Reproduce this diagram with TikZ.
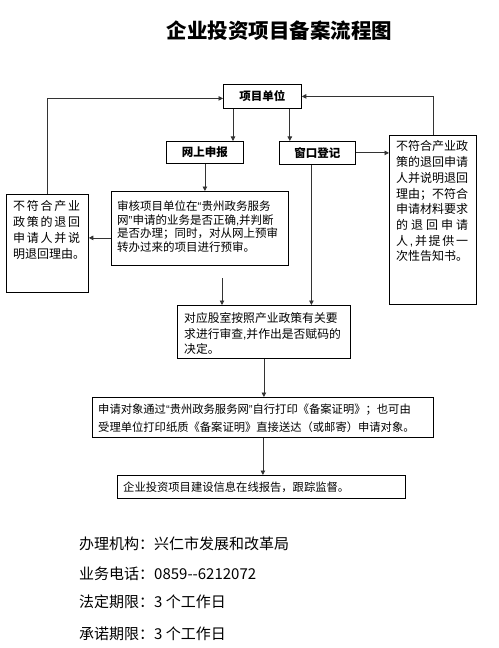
\documentclass[tikz,border=0pt]{standalone}
\usepackage{fontspec}
\setmainfont{Noto Sans CJK SC}
\newfontfamily\latinf{Liberation Sans}
\usetikzlibrary{arrows.meta}
\newcommand{\latq}[1]{{\latinf #1}}
\begin{document}
\begin{tikzpicture}[x=1bp,y=-1bp,
  box/.style={draw=black, line width=0.8bp, inner sep=0pt, anchor=north west},
  conn/.style={draw=black!80, line width=0.8bp, -{Triangle[length=4.5bp,width=4.5bp]}},
  txt/.style={inner sep=0pt, anchor=north west, align=left},
  bold/.style={font=\fontsize{11.5bp}{13bp}\selectfont\bfseries}]
\useasboundingbox (0,0) rectangle (499,648);

% title
\node[inner sep=0pt, font=\fontsize{20.5bp}{24bp}\selectfont\bfseries] (title) at (279.5,31) {企业投资项目备案流程图};

% boxes
\node[box, minimum width=78bp, minimum height=24bp] (unit) at (223,84) {};
\node[bold] (unittxt) at (unit.center) {项目单位};
\node[box, minimum width=77bp, minimum height=22bp] (online) at (166,141) {};
\node[bold] (onlinetxt) at (online.center) {网上申报};
\node[box, minimum width=76bp, minimum height=23bp] (window) at (279,141) {};
\node[bold] (windowtxt) at (window.center) {窗口登记};
\node[box, minimum width=87bp, minimum height=169bp] (rightbox) at (389,135) {};
\node[box, minimum width=82bp, minimum height=98bp] (leftbox) at (6,194) {};
\node[box, minimum width=177bp, minimum height=74bp] (review) at (111,191) {};
\node[box, minimum width=173bp, minimum height=53bp] (check) at (177,305) {};
\node[box, minimum width=341bp, minimum height=40bp] (notify) at (92,397) {};
\node[box, minimum width=288bp, minimum height=23bp] (final) at (117,475) {};

% texts
\node[txt, font=\fontsize{12bp}{15.7bp}\selectfont] (righttxt) at (396,140.6) {不符合产业政\\策的退回申请\\人并说明退回\\理由；不符合\\申请材料要求\\\makebox[72bp][s]{的\hfill 退\hfill 回\hfill 申\hfill 请}\\\makebox[72bp][s]{人\hfill\latq{,}\hfill 并\hfill 提\hfill 供\hfill 一}\\次性告知书。};
\node[txt, font=\fontsize{12bp}{16bp}\selectfont] (lefttxt) at (13,200.5) {\makebox[67bp][s]{不\hfill 符\hfill 合\hfill 产\hfill 业}\\\makebox[67bp][s]{政\hfill 策\hfill 的\hfill 退\hfill 回}\\\makebox[67bp][s]{申\hfill 请\hfill 人\hfill 并\hfill 说}\\明退回理由。};
\node[txt, font=\fontsize{11.5bp}{13.6bp}\selectfont] (reviewtxt) at (117,200.8) {审核项目单位在\latq{“}贵州政务服务\\网\latq{”}申请的业务是否正确\latq{,}并判断\\是否办理；同时，对从网上预审\\转办过来的项目进行预审。};
\node[txt, font=\fontsize{11.8bp}{15.5bp}\selectfont] (checktxt) at (184,312.7) {对应股室按照产业政策有关要\\求进行审查\latq{,}并作出是否赋码的\\决定。};
\node[txt, font=\fontsize{11.3bp}{18bp}\selectfont] (notifytxt) at (98,404) {申请对象通过\latq{“}贵州政务服务网\latq{”}自行打印《备案证明》；也可由\\受理单位打印纸质《备案证明》直接送达（或邮寄）申请对象。};
\node[txt, font=\fontsize{11.3bp}{14bp}\selectfont] (finaltxt) at (123,482) {企业投资项目建设信息在线报告，跟踪监督。};

% bottom info
\node[txt, font=\fontsize{15bp}{18bp}\selectfont] (info1) at (79,536.5) {办理机构：兴仁市发展和改革局};
\node[txt, font=\fontsize{15bp}{18bp}\selectfont] (info2) at (79,566.5) {业务电话：0859-{}-6212072};
\node[txt, font=\fontsize{15bp}{18bp}\selectfont] (info3) at (79,594.5) {法定期限：3 个工作日};
\node[txt, font=\fontsize{15bp}{18bp}\selectfont] (info4) at (79,626.5) {承诺期限：3 个工作日};

% connectors
\draw[conn] (leftbox.north) |- ([yshift=-2bp]unit.west);
\draw[conn] (rightbox.north) |- (unit.east);
\draw[conn] ([xshift=10bp]unit.south west) -- ([xshift=10bp]unit.south west |- online.north);
\draw[conn] ([xshift=-12bp]unit.south east) -- ([xshift=-12bp]unit.south east |- window.north);
\draw[conn] (online.south) -- (online.south |- review.north);
\draw[conn] (window.east) -- (window.east -| rightbox.west);
\draw[conn] ([yshift=-9.5bp]review.west) -- ([yshift=-9.5bp]review.west -| leftbox.east);
\coordinate (gapstart) at (222,278);
\draw[conn] (gapstart) -- (gapstart |- check.north);
\draw[conn] ([xshift=-6bp]window.south) -- ([xshift=-6bp]window.south |- check.north);
\draw[conn] (check.south) -- (check.south |- notify.north);
\draw[conn] (notify.south) -- (notify.south |- final.north);
\end{tikzpicture}
\end{document}
